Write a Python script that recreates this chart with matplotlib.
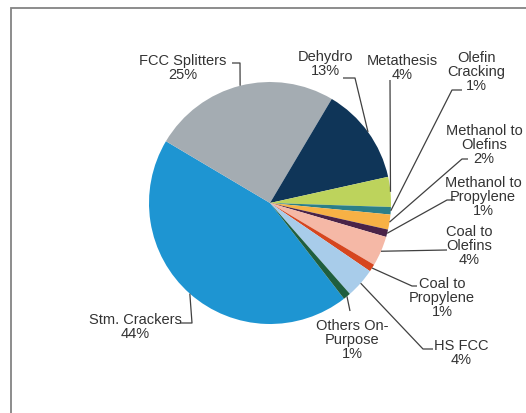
import matplotlib
matplotlib.use("Agg")
import matplotlib.pyplot as plt
from matplotlib.patches import Rectangle
import numpy as np

# Propylene production capacity share by technology
categories = ["Stm. Crackers", "FCC Splitters", "Dehydro", "Metathesis",
              "Olefin\nCracking", "Methanol to\nOlefins", "Methanol to\nPropylene",
              "Coal to\nOlefins", "Coal to\nPropylene", "HS FCC", "Others On-\nPurpose"]
shares = [44, 25, 13, 4, 1, 2, 1, 4, 1, 4, 1]

colors = ["#1E95D2", "#A4ACB2", "#0F3558", "#BDD35C", "#2B7F88", "#F7B145",
          "#4A2348", "#F5B8A6", "#D6461F", "#A8CCEA", "#1F5E3E"]

W, H = 526, 414
fig = plt.figure(figsize=(W / 100, H / 100), dpi=100)
ax = fig.add_axes([0, 0, 1, 1])


def py(y):
    # convert top-down layout coordinate to axis y
    return H - y


cx, cy, r = 270, py(204), 121
wedges, _ = ax.pie(shares, colors=colors, startangle=-52.3, counterclock=False,
                   center=(cx, cy), radius=r, frame=True,
                   wedgeprops=dict(linewidth=0))
ax.set_xlim(0, W)
ax.set_ylim(0, H)
ax.set_aspect("equal")
ax.axis("off")

# chart area frame (extends past the right and bottom edges)
ax.add_patch(Rectangle((11, -20), 700, py(8.5) + 20, fill=False,
                       edgecolor="#848484", linewidth=1.3, zorder=0))

# label block centres and leader elbows (layout, top-down pixels)
label_pos = [(135, 327), (183, 68), (325, 64), (402, 68), (476, 72),
             (484, 145), (483, 197), (469, 246), (442, 298), (461, 353), (352, 340)]
leader_pts = [[(180, 324), (192, 324)],
              [(232, 64), (240, 64)],
              [(343, 79), (355, 79)],
              [(390, 81)],
              [(462, 91), (452, 91)],
              [(468, 160), (462, 160)],
              [(455, 201), (447, 201)],
              [(447, 251)],
              [(417, 287), (412, 287)],
              [(433, 350), (423, 350)],
              [(350, 312)]]

txt_color = "#333333"
for w, name, val, (tx, ty), pts in zip(wedges, categories, shares, label_pos, leader_pts):
    mid = np.deg2rad((w.theta1 + w.theta2) / 2)
    ax_pt = (cx + r * np.cos(mid), cy + r * np.sin(mid))
    xs = [p[0] for p in pts] + [ax_pt[0]]
    ys = [py(p[1]) for p in pts] + [ax_pt[1]]
    ax.plot(xs, ys, color="#404040", linewidth=0.9, solid_capstyle="butt", zorder=3)
    ax.text(tx, py(ty), f"{name}\n{val}%", ha="center", va="center",
            fontsize=10.5, family="Liberation Sans", color=txt_color,
            linespacing=1.03, zorder=4)

fig.savefig("out.png", dpi=100)
